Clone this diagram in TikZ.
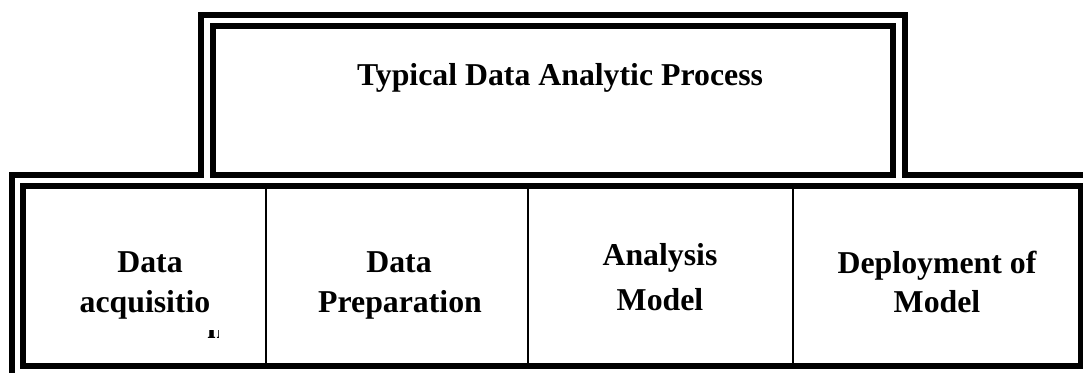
\documentclass[tikz,border=0pt]{standalone}
\usepackage{fontspec}
\setmainfont{Liberation Serif}
\usetikzlibrary{calc}

\begin{document}
\begin{tikzpicture}[
    x=1pt, y=-1pt,
    % Style des doubles cadres (traits épais)
    cadre/.style={draw=black, line width=6pt},
    % Style des séparateurs de colonnes
    sep/.style={draw=black, line width=2pt},
    % Style du texte en gras
    texte/.style={font=\fontsize{31.8}{40}\selectfont\bfseries, inner sep=0pt, anchor=base}
]

% Cadre de l'image (coupé comme l'original)
\useasboundingbox (0,0) rectangle (1083,372);
\clip (0,0) rectangle (1083,372);

% Trait extérieur commun aux deux cadres
\draw[cadre] (12,400) -- (12,175) -- (201,175) -- (201,15) -- (905,15)
    -- (905,175) -- (1092,175) -- (1092,400);
% Trait intérieur du cadre du haut
\draw[cadre] (213,26) rectangle (893,175);
% Trait intérieur du cadre du bas
\draw[cadre] (23,186) rectangle (1081,366);

% Séparateurs des colonnes
\draw[sep] (266,186) -- (266,366);
\draw[sep] (528,186) -- (528,366);
\draw[sep] (793,186) -- (793,366);

% Titre
\node[texte] (titre) at (560,85) {Typical Data Analytic Process};

% Colonne 1
\node[texte] (acq1) at (150,272) {Data};
\node[texte] (acq2) at (145,312) {acquisitio};
\begin{scope}
    \clip (200,330) rectangle (218,345); % Lettre coupée
    \node[texte, anchor=base west] (acq3) at (207,338) {n};
\end{scope}

% Colonne 2
\node[texte] (prep1) at (399,272) {Data};
\node[texte] (prep2) at (400,312) {Preparation};

% Colonne 3
\node[texte] (ana1) at (660,265) {Analysis};
\node[texte] (ana2) at (660,310) {Model};

% Colonne 4
\node[texte] (dep1) at (937,273) {Deployment of};
\node[texte] (dep2) at (937,312) {Model};

\end{tikzpicture}
\end{document}
